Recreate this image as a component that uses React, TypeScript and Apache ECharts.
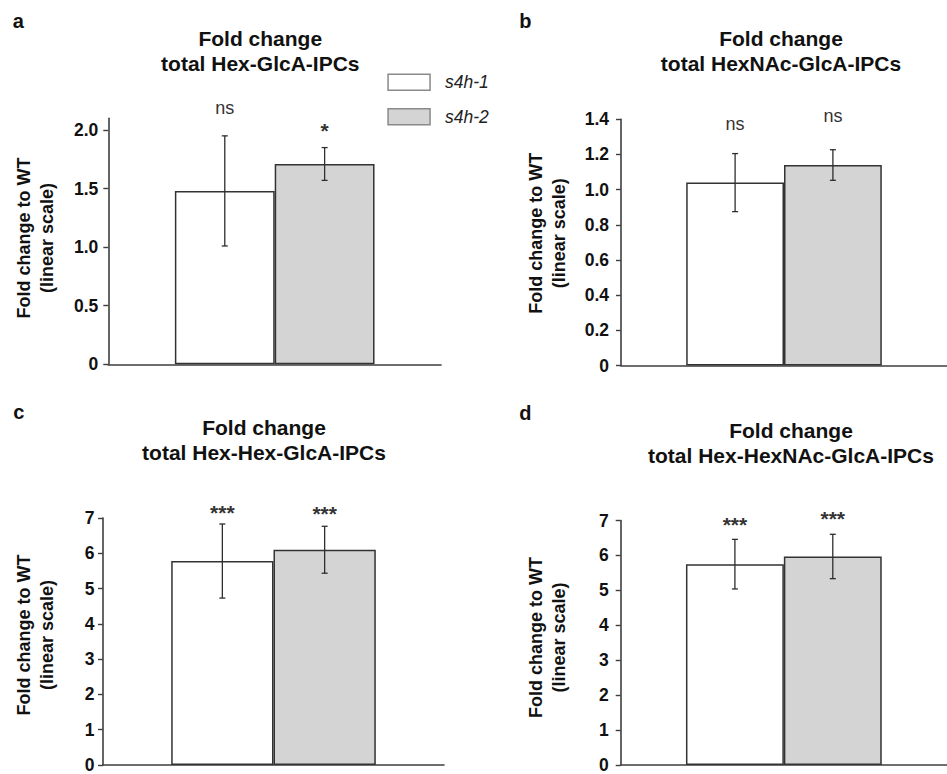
import React, { useEffect, useRef } from 'react';
import * as echarts from 'echarts';

// ---------- data ----------
const GENOTYPES = ['s4h-1', 's4h-2'];
const PANEL_LETTERS = ['a', 'b', 'c', 'd'];
const TITLE_HEAD = 'Fold change';
const TITLE_LIPIDS = [
  'total Hex-GlcA-IPCs',
  'total HexNAc-GlcA-IPCs',
  'total Hex-Hex-GlcA-IPCs',
  'total Hex-HexNAc-GlcA-IPCs',
];
const Y_NAME = ['Fold change to WT', '(linear scale)'];
const MEAN_S4H1 = [1.48, 1.04, 5.78, 5.75];
const MEAN_S4H2 = [1.71, 1.14, 6.1, 5.97];
const ERR_S4H1 = [0.47, 0.165, 1.05, 0.71];
const ERR_S4H2 = [0.14, 0.087, 0.665, 0.635];
const SIG_S4H1 = ['ns', 'ns', '***', '***'];
const SIG_S4H2 = ['*', 'ns', '***', '***'];
// where the significance marks sit (in axis units)
const SIG_AT_S4H1 = [2.19, 1.372, 7.16, 6.89];
const SIG_AT_S4H2 = [2.0, 1.419, 7.12, 7.05];
const Y_MAX = [2.1, 1.4, 7, 7];
const Y_TICK_MAX = [2.0, 1.4, 7, 7];
const Y_STEP = [0.5, 0.2, 1, 1];
const Y_DECIMALS = [1, 1, 0, 0];

// ---------- layout ----------
const FONT = '"Liberation Sans", Arial, Helvetica, sans-serif';
const GRIDS = [
  { left: 108.3, top: 118.3, width: 332.8, height: 246 },
  { left: 621, top: 119.3, width: 332.2, height: 246.2 },
  { left: 103, top: 518, width: 341, height: 250.7 },
  { left: 620.7, top: 520.5, width: 341.2, height: 250 },
];
const LABEL_MARGIN = [10, 12, 8.5, 12];
const TITLE_POS = [
  { x: 260.3, y: 25.5 },
  { x: 781, y: 26 },
  { x: 264, y: 415 },
  { x: 791, y: 418 },
];
const LETTER_POS = [
  { x: 12.7, y: 21.3 },
  { x: 519.3, y: 20.8 },
  { x: 13.3, y: 411.8 },
  { x: 519.3, y: 412.8 },
];
const YNAME_POS = [
  { x: 35.2, y: 238 },
  { x: 547.5, y: 233.3 },
  { x: 35.8, y: 635 },
  { x: 547.8, y: 637.5 },
];
const BAR_RATIO = 0.3;
const AXIS_COLOR = '#3f3f3f';
const BAR_BORDER = '#333333';
const BAR_FILLS = ['#ffffff', '#d4d4d4'];

function tickValues(i: number): number[] {
  const out: number[] = [];
  for (let k = 0; k * Y_STEP[i] <= Y_TICK_MAX[i] + 1e-9; k++) {
    out.push(+(k * Y_STEP[i]).toFixed(3));
  }
  return out;
}

function buildOption() {
  const panels = [0, 1, 2, 3];
  const grid = GRIDS.map((g) => ({ ...g, containLabel: false }));
  const xAxis = panels.map((i) => ({
    type: 'category',
    gridIndex: i,
    data: [''],
    axisLine: { show: true, lineStyle: { color: AXIS_COLOR, width: 1.6 } },
    axisTick: { show: false },
    axisLabel: { show: false },
    splitLine: { show: false },
  }));
  const yAxis = panels.map((i) => ({
    type: 'value',
    gridIndex: i,
    min: 0,
    max: Y_MAX[i],
    interval: Y_STEP[i],
    axisLine: { show: true, lineStyle: { color: AXIS_COLOR, width: 1.6 } },
    axisTick: {
      show: true,
      length: 5,
      customValues: tickValues(i),
      lineStyle: { color: AXIS_COLOR, width: 1.4 },
    },
    axisLabel: {
      show: true,
      customValues: tickValues(i),
      margin: LABEL_MARGIN[i],
      fontSize: 17.5,
      fontWeight: 'bold',
      fontFamily: FONT,
      color: '#111',
      formatter: (v: number) => (v === 0 ? '0' : v.toFixed(Y_DECIMALS[i])),
    },
    splitLine: { show: false },
  }));

  const series: any[] = [];
  panels.forEach((i) => {
    [MEAN_S4H1, MEAN_S4H2].forEach((means, s) => {
      series.push({
        type: 'bar',
        name: GENOTYPES[s],
        xAxisIndex: i,
        yAxisIndex: i,
        data: [means[i]],
        barWidth: BAR_RATIO * 100 + '%',
        barGap: '0%',
        itemStyle: { color: BAR_FILLS[s], borderColor: BAR_BORDER, borderWidth: 1.5 },
        emphasis: { disabled: true },
      });
    });
    const sigs = [SIG_S4H1[i], SIG_S4H2[i]];
    series.push({
      type: 'custom',
      name: 'error-' + PANEL_LETTERS[i],
      xAxisIndex: i,
      yAxisIndex: i,
      clip: false,
      z: 10,
      data: [
        [0, MEAN_S4H1[i], ERR_S4H1[i], 0, SIG_AT_S4H1[i]],
        [0, MEAN_S4H2[i], ERR_S4H2[i], 1, SIG_AT_S4H2[i]],
      ],
      renderItem: (params: any, api: any) => {
        const idx = api.value(3);
        const mean = api.value(1);
        const err = api.value(2);
        const base = api.coord([0, mean]);
        const band = api.size([1, 0])[0];
        const bw = band * BAR_RATIO;
        const x = base[0] + (idx === 0 ? -bw / 2 : bw / 2);
        const yTop = api.coord([0, mean + err])[1];
        const yBot = api.coord([0, mean - err])[1];
        const ySig = api.coord([0, api.value(4)])[1];
        const cap = 3;
        const ls = { stroke: '#2e2e2e', lineWidth: 1.3 };
        const sig = sigs[params.dataIndex];
        const isStar = sig.indexOf('*') >= 0;
        return {
          type: 'group',
          children: [
            { type: 'line', shape: { x1: x, y1: yTop, x2: x, y2: yBot }, style: ls },
            { type: 'line', shape: { x1: x - cap, y1: yTop, x2: x + cap, y2: yTop }, style: ls },
            { type: 'line', shape: { x1: x - cap, y1: yBot, x2: x + cap, y2: yBot }, style: ls },
            {
              type: 'text',
              x,
              y: ySig,
              style: {
                text: sig,
                align: 'center',
                verticalAlign: 'middle',
                fontSize: isStar ? 21 : 18,
                fontWeight: isStar ? 'bold' : 'normal',
                fontFamily: FONT,
                fill: '#333',
              },
            },
          ],
        };
      },
    });
  });

  const title = panels.map((i) => ({
    text: TITLE_HEAD + '\n' + TITLE_LIPIDS[i],
    left: TITLE_POS[i].x,
    top: TITLE_POS[i].y,
    padding: 0,
    textAlign: 'center',
    textVerticalAlign: 'top',
    textStyle: {
      fontSize: 21,
      fontWeight: 'bold',
      lineHeight: 25,
      color: '#111',
      fontFamily: FONT,
    },
  }));

  const graphic: any[] = [];
  panels.forEach((i) => {
    graphic.push({
      type: 'text',
      x: LETTER_POS[i].x,
      y: LETTER_POS[i].y,
      style: {
        text: PANEL_LETTERS[i],
        align: 'left',
        verticalAlign: 'middle',
        fontSize: 20,
        fontWeight: 'bold',
        fontFamily: FONT,
        fill: '#111',
      },
    });
    graphic.push({
      type: 'text',
      x: YNAME_POS[i].x,
      y: YNAME_POS[i].y,
      rotation: Math.PI / 2,
      style: {
        text: Y_NAME.join('\n'),
        align: 'center',
        verticalAlign: 'middle',
        fontSize: 18,
        lineHeight: 23,
        fontWeight: 'bold',
        fontFamily: FONT,
        fill: '#111',
      },
    });
  });

  return {
    animation: false,
    backgroundColor: '#ffffff',
    textStyle: { fontFamily: FONT },
    title,
    legend: {
      data: GENOTYPES.map((n) => ({ name: n, icon: 'rect' })),
      orient: 'vertical',
      left: 387.3,
      top: 73.3,
      padding: 0,
      itemWidth: 42,
      itemHeight: 16,
      itemGap: 16.4,
      selectedMode: false,
      itemStyle: { borderColor: '#8a8a8a', borderWidth: 1.5 },
      textStyle: {
        fontStyle: 'italic',
        fontSize: 17.5,
        color: '#222',
        fontFamily: FONT,
        padding: [0, 0, 0, 10],
      },
    },
    grid,
    xAxis,
    yAxis,
    series,
    graphic,
  };
}

export default function App() {
  const ref = useRef<HTMLDivElement | null>(null);
  useEffect(() => {
    if (!ref.current) return;
    const chart = echarts.init(ref.current, undefined, { renderer: 'svg' });
    chart.setOption(buildOption() as any);
    return () => chart.dispose();
  }, []);
  return (
    <div
      ref={ref}
      style={{ position: 'absolute', left: 0, top: 0, width: 947, height: 774, background: '#fff' }}
    />
  );
}
